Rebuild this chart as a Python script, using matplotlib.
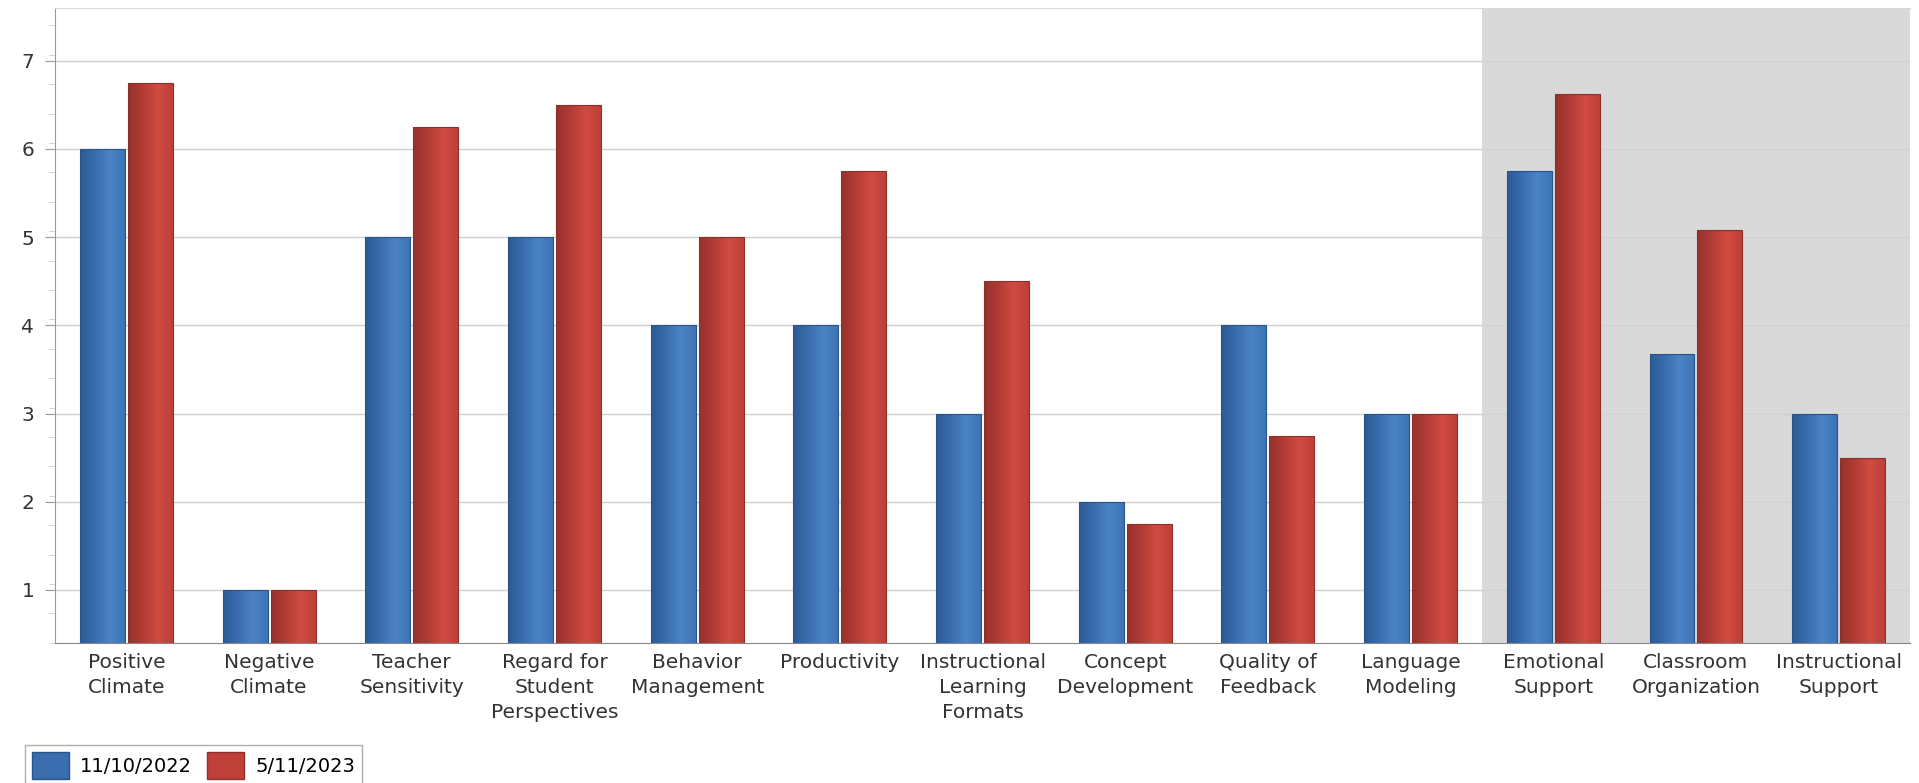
import numpy as np
import matplotlib.pyplot as plt
from matplotlib.colors import LinearSegmentedColormap
from matplotlib.patches import Patch

# CLASS dimension scores for the two observation dates
categories = ["Positive\nClimate", "Negative\nClimate", "Teacher\nSensitivity",
              "Regard for\nStudent\nPerspectives", "Behavior\nManagement", "Productivity",
              "Instructional\nLearning\nFormats", "Concept\nDevelopment", "Quality of\nFeedback",
              "Language\nModeling", "Emotional\nSupport", "Classroom\nOrganization",
              "Instructional\nSupport"]
series_names = ["11/10/2022", "5/11/2023"]
scores_2022 = [6, 1, 5, 5, 4, 4, 3, 2, 4, 3, 5.75, 3.67, 3]
scores_2023 = [6.75, 1, 6.25, 6.5, 5, 5.75, 4.5, 1.75, 2.75, 3, 6.625, 5.08, 2.5]
# the last three columns are the domain summaries
n_domains = 3

blue_cmap = LinearSegmentedColormap.from_list("b", ["#2c5a94", "#3a6dae", "#4a83c6", "#3e74b6"])
red_cmap = LinearSegmentedColormap.from_list("r", ["#96322d", "#b23c35", "#d04b42", "#bd4038"])

fig = plt.figure(figsize=(19.19, 7.83), dpi=100)
ax = fig.add_axes([0.0287, 0.179, 0.9666, 0.811])

x = np.arange(len(categories))
width = 0.315
offset = 0.168

ax.set_xlim(-0.5, len(categories) - 0.5)
ax.set_ylim(0.4, 7.6)
ymin = ax.get_ylim()[0]

ax.axvspan(len(categories) - n_domains - 0.5, len(categories) - 0.5,
           color="#d9d9d9", zorder=0, lw=0)

grad = np.linspace(0, 1, 64).reshape(1, -1)
for vals, cmap, sign, edge in [(scores_2022, blue_cmap, -1, "#27548a"),
                               (scores_2023, red_cmap, 1, "#8e2f2a")]:
    bars = ax.bar(x + sign * offset, vals, width, color="none",
                  edgecolor=edge, linewidth=0.8, zorder=3)
    for b in bars:
        im = ax.imshow(grad, cmap=cmap, aspect="auto", zorder=2,
                       extent=[b.get_x(), b.get_x() + b.get_width(), ymin, b.get_height()])
        im.set_clip_path(b)

ax.set_yticks(range(1, 8))
ax.set_yticks(np.arange(ymin, 7.6, 1 / 3), minor=True)
ax.set_xticks(x)
ax.set_xticklabels(categories, fontsize=14.5, color="#333333", linespacing=1.4)
ax.tick_params(axis="y", labelsize=14.5, labelcolor="#333333", color="#999999",
               length=7, pad=8)
ax.tick_params(axis="y", which="minor", color="#cccccc", length=4)
ax.tick_params(axis="x", length=0, pad=7)

ax.grid(axis="y", color="#d0d0d0", linewidth=1, zorder=1)
ax.set_axisbelow(True)
ax.spines["right"].set_visible(False)
ax.spines["top"].set_color("#d8d8d8")
ax.spines["left"].set_color("#999999")
ax.spines["bottom"].set_color("#888888")

handles = [Patch(facecolor="#3a6dae", edgecolor="#27548a"),
           Patch(facecolor="#be4038", edgecolor="#8e2f2a")]
fig.legend(handles, series_names, loc="lower left", bbox_to_anchor=(0.013, -0.004),
           ncol=2, fontsize=14, frameon=True, fancybox=False, edgecolor="#999999",
           handlelength=1.9, handleheight=1.8, columnspacing=0.75, handletextpad=0.6,
           borderpad=0.35, borderaxespad=0.0)

fig.savefig("out.png", dpi=100)
